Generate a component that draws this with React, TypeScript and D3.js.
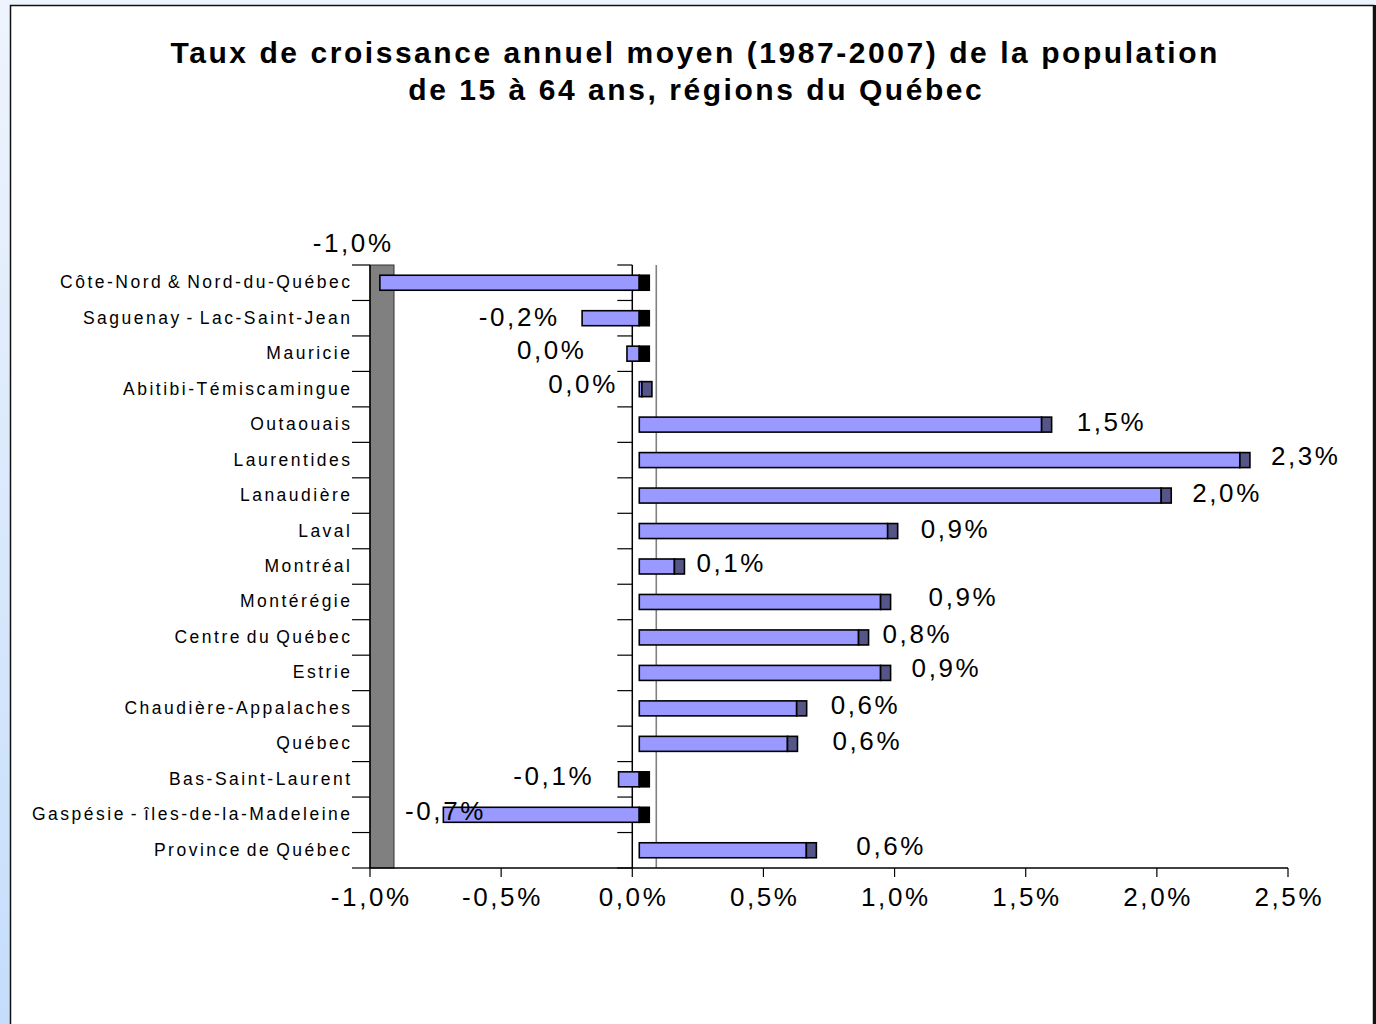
import React from "react";
import * as d3 from "d3";

const title1 = "Taux de croissance annuel moyen (1987-2007) de la population";
const title2 = "de 15 à 64 ans, régions du Québec";

const categories = [
  "Côte-Nord & Nord-du-Québec",
  "Saguenay - Lac-Saint-Jean",
  "Mauricie",
  "Abitibi-Témiscamingue",
  "Outaouais",
  "Laurentides",
  "Lanaudière",
  "Laval",
  "Montréal",
  "Montérégie",
  "Centre du Québec",
  "Estrie",
  "Chaudière-Appalaches",
  "Québec",
  "Bas-Saint-Laurent",
  "Gaspésie - îles-de-la-Madeleine",
  "Province de Québec",
];

const growth = [
  -0.989, -0.218, -0.047, 0.01, 1.534, 2.29, 1.99, 0.947, 0.134, 0.92, 0.836,
  0.92, 0.6, 0.565, -0.079, -0.747, 0.637,
];

const xTicks = [-1, -0.5, 0, 0.5, 1, 1.5, 2, 2.5];

// layout-only: data label nudges (px) as placed in the original
const LABEL_NUDGE: [number, number][] = [
  [-28, -40], [-25, -1], [-43, -4], [-24, -5], [25, -3], [21, -4], [21, -3],
  [23, -2], [12, -3.5], [38, -5], [14, -3.5], [21, -5], [24, -3.4], [35, -3],
  [-27, -3.3], [40, -4], [40, -4],
];

const W = 1376;
const H = 1024;
const PLOT_TOP = 265;
const PLOT_BOTTOM = 868;
const DEPTH = 24;
const FRONT = 7;
const CAP = 10;
const BAR_H = 15;

const fmtNum = d3.format(".1f");
function pct(v: number) {
  let s = fmtNum(v).replace("\u2212", "-");
  if (s === "-0.0") s = "0.0";
  return s.replace(".", ",") + "%";
}

export default function App() {
  const x = d3.scaleLinear().domain([-1, 2.5]).range([370, 1288]);
  const y = d3
    .scaleBand<string>()
    .domain(categories)
    .range([PLOT_TOP, PLOT_BOTTOM])
    .paddingInner(0)
    .paddingOuter(0);
  const bw = y.bandwidth();
  const x0 = x(0);
  const font = "Arial, 'Liberation Sans', Helvetica, sans-serif";
  const boundaries = d3.range(categories.length + 1).map((i) => PLOT_TOP + i * bw);
  const VAL_FS = 26;
  const VAL_LS = 2.6;
  const CAT_FS = 17.5;
  const CAT_LS = 2.5;
  const TITLE_LS = 2.55;

  return (
    <div style={{ position: "fixed", left: 0, top: 0, width: W, height: H }}>
      <svg width={W} height={H} style={{ display: "block" }} fontFamily={font}>
        <defs>
          <linearGradient id="bg" x1="0" y1="0" x2="0" y2="1">
            <stop offset="0" stopColor="#eef4fd" />
            <stop offset="1" stopColor="#c5ddfb" />
          </linearGradient>
        </defs>
        <rect x={0} y={0} width={W} height={H} fill="url(#bg)" />
        <rect x={10.5} y={5.5} width={1363} height={1030} fill="#ffffff" stroke="#111" strokeWidth={1.5} />
        <line x1={1374.5} y1={5} x2={1374.5} y2={H} stroke="#111" strokeWidth={3} />

        <text x={694 + TITLE_LS / 2} y={63} textAnchor="middle" fontSize={30} fontWeight="bold" letterSpacing={TITLE_LS}>
          {title1}
        </text>
        <text x={695 + TITLE_LS / 2} y={100} textAnchor="middle" fontSize={30} fontWeight="bold" letterSpacing={TITLE_LS}>
          {title2}
        </text>

        {/* back zero line */}
        <line x1={x0 + DEPTH} y1={PLOT_TOP} x2={x0 + DEPTH} y2={PLOT_BOTTOM} stroke="#808080" strokeWidth={1.6} />

        {/* side wall */}
        <rect x={x(-1)} y={PLOT_TOP} width={DEPTH} height={PLOT_BOTTOM - PLOT_TOP} fill="#808080" stroke="#333" strokeWidth={1} />
        <line x1={x(-1)} y1={PLOT_TOP} x2={x(-1)} y2={PLOT_BOTTOM} stroke="#000" strokeWidth={1.5} />

        {/* category ticks */}
        {boundaries.map((b, i) => (
          <g key={"ct" + i}>
            <line x1={352} y1={b} x2={x(-1)} y2={b} stroke="#000" strokeWidth={1.2} />
            <line x1={x0 - 15} y1={b} x2={x0} y2={b} stroke="#000" strokeWidth={1.2} />
          </g>
        ))}
        <line x1={x0} y1={PLOT_TOP} x2={x0} y2={PLOT_BOTTOM} stroke="#000" strokeWidth={1.5} />

        {/* x axis */}
        <line x1={x(-1)} y1={PLOT_BOTTOM} x2={x(2.5)} y2={PLOT_BOTTOM} stroke="#000" strokeWidth={1.5} />
        {xTicks.map((t) => (
          <g key={"xt" + t}>
            <line x1={x(t)} y1={PLOT_BOTTOM} x2={x(t)} y2={PLOT_BOTTOM + 9} stroke="#000" strokeWidth={1.2} />
            <text x={x(t) + VAL_LS / 2} y={906} textAnchor="middle" fontSize={VAL_FS} letterSpacing={VAL_LS}>
              {pct(t)}
            </text>
          </g>
        ))}

        {/* category labels */}
        {categories.map((c) => (
          <text
            key={"cl" + c}
            x={350 + CAT_LS}
            y={(y(c) as number) + bw / 2 + 5.5}
            textAnchor="end"
            fontSize={CAT_FS}
            letterSpacing={CAT_LS}
            wordSpacing={-2.5}
          >
            {c}
          </text>
        ))}

        {/* bars */}
        {categories.map((c, i) => {
          const v = growth[i];
          const cy = (y(c) as number) + bw / 2;
          const top = cy - BAR_H / 2;
          const front0 = x0 + FRONT;
          const frontV = x(v) + FRONT;
          if (v >= 0) {
            return (
              <g key={"b" + c}>
                <rect x={front0} y={top} width={Math.max(0, frontV - front0)} height={BAR_H} fill="#9999ff" stroke="#000" strokeWidth={1.6} />
                <rect x={frontV} y={top} width={CAP} height={BAR_H} fill="#555588" stroke="#000" strokeWidth={1.6} />
              </g>
            );
          }
          return (
            <g key={"b" + c}>
              <rect x={frontV} y={top} width={front0 - frontV} height={BAR_H} fill="#9999ff" stroke="#000" strokeWidth={1.6} />
              <rect x={front0} y={top} width={CAP} height={BAR_H} fill="#000" stroke="#000" strokeWidth={1.6} />
            </g>
          );
        })}

        {/* data labels */}
        {categories.map((c, i) => {
          const v = growth[i];
          const cy = (y(c) as number) + bw / 2;
          const [dx, dy] = LABEL_NUDGE[i];
          let ref: number;
          let anchor: "start" | "end" | "middle";
          if (i === 0) {
            ref = x(v) + FRONT;
            anchor = "middle";
          } else if (v > 0.05) {
            ref = x(v) + FRONT + CAP;
            anchor = "start";
          } else if (v >= 0) {
            ref = x0 + FRONT;
            anchor = "end";
          } else {
            ref = x(v) + FRONT;
            anchor = "end";
          }
          const shift = anchor === "end" ? VAL_LS : anchor === "middle" ? VAL_LS / 2 : 0;
          return (
            <text key={"dl" + c} x={ref + dx + shift} y={cy + dy + 9} textAnchor={anchor} fontSize={VAL_FS} letterSpacing={VAL_LS}>
              {pct(v)}
            </text>
          );
        })}
      </svg>
    </div>
  );
}
